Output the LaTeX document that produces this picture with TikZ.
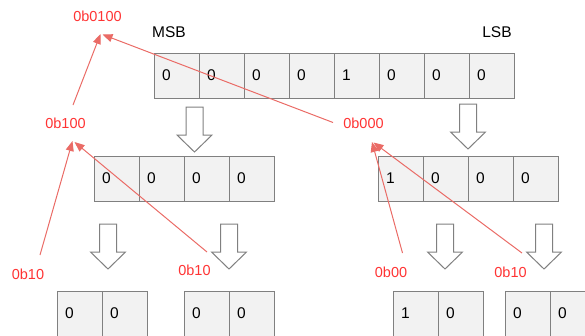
\documentclass[tikz,border=0pt]{standalone}
\usepackage{fontspec}
\setmainfont{Liberation Sans}
\usetikzlibrary{arrows.meta}
\definecolor{cellfill}{HTML}{F2F2F2}
\definecolor{cellline}{HTML}{808080}
\definecolor{redline}{HTML}{EA6B66}
\definecolor{redtext}{HTML}{FF3333}
\tikzset{
 cell/.style={draw=cellline, fill=cellfill, line width=1pt, minimum height=45pt, inner xsep=8pt, inner ysep=0pt, text width=29pt, align=left, font=\fontsize{15.5}{18}\selectfont},
 redlabel/.style={text=redtext, font=\fontsize{14.5}{17}\selectfont, inner sep=0pt},
 sidelabel/.style={font=\fontsize{15.5}{18}\selectfont, inner sep=0pt},
 link/.style={draw=redline, line width=1pt, -{Triangle[length=10pt,width=8pt]}},
 blockarrow/.pic={\draw[draw=cellline, fill=white, line width=1pt] (-8.5,0) -- (8.5,0) -- (8.5,28) -- (17.5,28) -- (0,45) -- (-17.5,28) -- (-8.5,28) -- cycle;}
}
\begin{document}
\begin{tikzpicture}[x=1pt,y=-1pt]
\useasboundingbox (0,0) rectangle (585,335);
% cells
\foreach \v [count=\i] in {0,0,0,0,1,0,0,0}
  \node[cell] (t\i) at ({176.5+45*(\i-1)},75.5) {\v};
\foreach \v [count=\i] in {0,0,0,0}
  \node[cell] (ml\i) at ({116.5+45*(\i-1)},178.5) {\v};
\foreach \v [count=\i] in {1,0,0,0}
  \node[cell] (mr\i) at ({400.5+45*(\i-1)},178.5) {\v};
\node[cell] (b1) at (79.5,313.5) {0};
\node[cell] (b2) at (124.5,313.5) {0};
\node[cell] (b3) at (206.5,313.5) {0};
\node[cell] (b4) at (251.5,313.5) {0};
\node[cell] (b5) at (415.5,313.5) {1};
\node[cell] (b6) at (460.5,313.5) {0};
\node[cell] (b7) at (527.5,313.5) {0};
\node[cell] (b8) at (572.5,313.5) {0};
% side labels
\node[sidelabel] (msb) at (169,32) {MSB};
\node[sidelabel] (lsb) at (497,32) {LSB};
% block arrows
\pic at (194.5,107) {blockarrow};
\pic at (468,104) {blockarrow};
\pic at (108,224) {blockarrow};
\pic at (229,224) {blockarrow};
\pic at (445,224) {blockarrow};
\pic at (544,224) {blockarrow};
% red labels
\node[redlabel] (l0100) at (97.5,16) {0b0100};
\node[redlabel] (l100) at (65.5,123) {0b100};
\node[redlabel] (l000) at (363.5,123) {0b000};
\node[redlabel] (la) at (28,274) {0b10};
\node[redlabel] (lb) at (194.5,270) {0b10};
\node[redlabel] (lc) at (391,272) {0b00};
\node[redlabel] (ld) at (510.5,272) {0b10};
% connector ends
\coordinate (s1) at (73,105);
\coordinate (e1) at (100.5,34);
\coordinate (s2) at (333,122.5);
\coordinate (e2) at (102.5,34.5);
\coordinate (s3) at (40,255);
\coordinate (e3) at (72.5,141);
\coordinate (s4) at (207,252);
\coordinate (e4) at (74.5,142);
\coordinate (s5) at (402.5,253);
\coordinate (e5) at (372,142);
\coordinate (s6) at (522,253);
\coordinate (e6) at (373.5,142.5);
\draw[link] (s1) -- (e1);
\draw[link] (s2) -- (e2);
\draw[link] (s3) -- (e3);
\draw[link] (s4) -- (e4);
\draw[link] (s5) -- (e5);
\draw[link] (s6) -- (e6);
\end{tikzpicture}
\end{document}
